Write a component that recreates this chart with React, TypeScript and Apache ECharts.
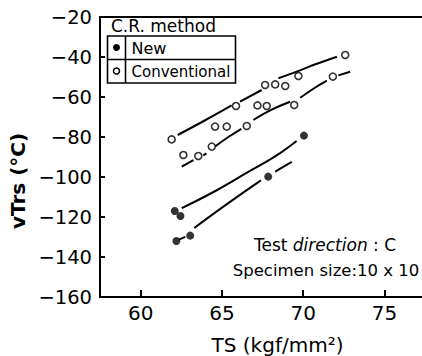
import { useEffect, useRef } from 'react';
import * as echarts from 'echarts';

// Measured points: [TS (kgf/mm²), vTrs (°C)]
const conventionalPoints: [number, number][] = [
  [61.91, -81.2], [62.63, -89], [63.55, -89.5], [64.38, -84.8], [64.58, -74.8],
  [65.3, -74.8], [65.87, -64.5], [66.53, -74.5], [67.19, -64.2], [67.76, -64.5],
  [67.66, -54], [68.28, -53.7], [68.9, -54.5], [69.45, -64], [69.71, -49.5],
  [71.83, -49.8], [72.59, -39],
];
const newPoints: [number, number][] = [
  [62.1, -117], [62.45, -119.5], [62.2, -132], [63.05, -129.3], [67.85, -99.8], [70.05, -79.3],
];

// Hand-drawn trend lines (segments broken where they meet points)
const conventionalUpperFit: [number, number][][] = [
  [[62.28, -79], [64.0, -71.5], [65.6, -64.2]],
  [[66.12, -62.35], [67.45, -56.5]],
  [[68.48, -50.65], [69.6, -47.3], [70.8, -43.5], [72.08, -39.85]],
];
const conventionalLowerFit: [number, number][][] = [
  [[62.53, -94.8], [63.25, -91.6]],
  [[63.85, -89.2], [64.05, -88.2]],
  [[64.6, -84.6], [65.4, -80], [66.2, -75.9]],
  [[66.94, -71.5], [68.0, -66.6], [69.2, -62.4]],
  [[69.82, -60.4], [70.7, -55.5], [71.46, -51.8]],
  [[72.17, -49.2], [72.89, -47.4]],
];
const newUpperFit: [number, number][][] = [
  [[62.53, -115.6], [64.6, -107], [66.6, -97.6], [68.3, -89.6], [69.6, -82]],
];
const newLowerFit: [number, number][][] = [
  [[62.35, -131.3], [62.75, -129.9]],
  [[63.3, -125.5], [65.2, -114.2], [67.4, -101.7]],
  [[68.28, -97.3], [69.3, -92.4]],
];

const xRange = [57.5, 77.5];
const yRange = [-160, -20];
const yStep = 20;

const legendTitle = 'C.R. method';
const legendNames = ['New', 'Conventional'];
const noteLines = ['Test direction : C', 'Specimen size:10 x 10'];
const xTitle = 'TS (kgf/mm²)';
const yTitle = 'vTrs (°C)';

const FONT = '"DejaVu Sans", sans-serif';

export default function App() {
  const ref = useRef<HTMLDivElement>(null);
  useEffect(() => {
    document.body.style.margin = '0';
    const chart = echarts.init(ref.current!, null, { renderer: 'svg' });
    const fits = [...conventionalUpperFit, ...conventionalLowerFit, ...newUpperFit, ...newLowerFit];
    const lineSeries = fits.map((seg) => ({
      type: 'line',
      data: seg,
      smooth: 0.4,
      showSymbol: false,
      symbol: 'none',
      silent: true,
      lineStyle: { color: '#000', width: 2 },
      z: 2,
    }));
    chart.setOption({
      animation: false,
      backgroundColor: '#fff',
      grid: {
        left: 100, top: 17, width: 325, bottom: 59,
        outerBoundsMode: 'none', containLabel: false,
        show: true, borderColor: '#000', borderWidth: 2, backgroundColor: 'transparent',
      },
      xAxis: {
        type: 'value',
        min: xRange[0], max: xRange[1], splitNumber: 4,
        axisLine: { show: true, lineStyle: { color: '#000', width: 2 } },
        axisTick: { show: true, inside: true, length: 7, lineStyle: { color: '#000', width: 2 } },
        axisLabel: {
          color: '#000', fontSize: 20, fontFamily: FONT, margin: 6,
          showMinLabel: false, showMaxLabel: false,
        },
        splitLine: { show: false },
        name: xTitle, nameLocation: 'middle', nameGap: 38,
        nameTextStyle: { color: '#000', fontSize: 20, fontFamily: FONT, padding: [0, 0, 0, 30] },
      },
      yAxis: {
        type: 'value',
        min: yRange[0], max: yRange[1], interval: yStep,
        axisLine: { show: true, lineStyle: { color: '#000', width: 2 } },
        axisTick: { show: true, inside: true, length: 5, lineStyle: { color: '#000', width: 2 } },
        axisLabel: {
          color: '#000', fontSize: 19.5, fontFamily: FONT, margin: 8,
          formatter: (v: number) => String(v).replace('-', '\u2212'),
        },
        splitLine: { show: false },
        name: yTitle, nameLocation: 'middle', nameGap: 59, nameRotate: 90,
        nameTextStyle: { color: '#000', fontSize: 20, fontWeight: 'bold', fontFamily: FONT, padding: [0, 48, 0, 0] },
      },
      series: [
        ...lineSeries,
        {
          type: 'scatter', name: legendNames[1], data: conventionalPoints,
          symbol: 'circle', symbolSize: 7, z: 3,
          itemStyle: { color: '#fff', borderColor: '#000', borderWidth: 1.6 },
        },
        {
          type: 'scatter', name: legendNames[0], data: newPoints,
          symbol: 'circle', symbolSize: 8, z: 3,
          itemStyle: { color: '#000' },
        },
      ],
      graphic: [
        { type: 'rect', shape: { x: 107.5, y: 36, width: 128, height: 47 }, style: { fill: '#fff', stroke: '#000', lineWidth: 1.6 }, z: 10 },
        { type: 'line', shape: { x1: 107.5, y1: 59.5, x2: 235.5, y2: 59.5 }, style: { stroke: '#000', lineWidth: 1.6 }, z: 11 },
        { type: 'line', shape: { x1: 125.5, y1: 36, x2: 125.5, y2: 83 }, style: { stroke: '#000', lineWidth: 1.6 }, z: 11 },
        { type: 'circle', shape: { cx: 116.5, cy: 47.5, r: 3.5 }, style: { fill: '#000' }, z: 11 },
        { type: 'circle', shape: { cx: 116.5, cy: 71, r: 3 }, style: { fill: '#fff', stroke: '#000', lineWidth: 1.5 }, z: 11 },
        { type: 'text', x: 111, y: 26, style: { text: legendTitle, fontSize: 17, fontFamily: FONT, fill: '#000', verticalAlign: 'middle' }, z: 11 },
        { type: 'text', x: 131.5, y: 48, style: { text: legendNames[0], fontSize: 16, fontFamily: FONT, fill: '#000', verticalAlign: 'middle' }, z: 11 },
        { type: 'text', x: 131.5, y: 71.5, style: { text: legendNames[1], fontSize: 15, fontFamily: FONT, fill: '#000', verticalAlign: 'middle' }, z: 11 },
        {
          type: 'text', x: 325, y: 245, z: 11,
          style: {
            text: '{a|Test }{b|direction}{a| : C}',
            align: 'center', verticalAlign: 'middle',
            rich: {
              a: { fontSize: 17, fontFamily: FONT, fill: '#000' },
              b: { fontSize: 17, fontFamily: FONT, fill: '#000', fontStyle: 'italic' },
            },
          },
        },
        {
          type: 'text', x: 326, y: 270, z: 11,
          style: { text: noteLines[1], fontSize: 16.5, fontFamily: FONT, fill: '#000', align: 'center', verticalAlign: 'middle' },
        },
      ],
    });
    return () => chart.dispose();
  }, []);
  return <div ref={ref} style={{ width: 422, height: 356 }} />;
}
